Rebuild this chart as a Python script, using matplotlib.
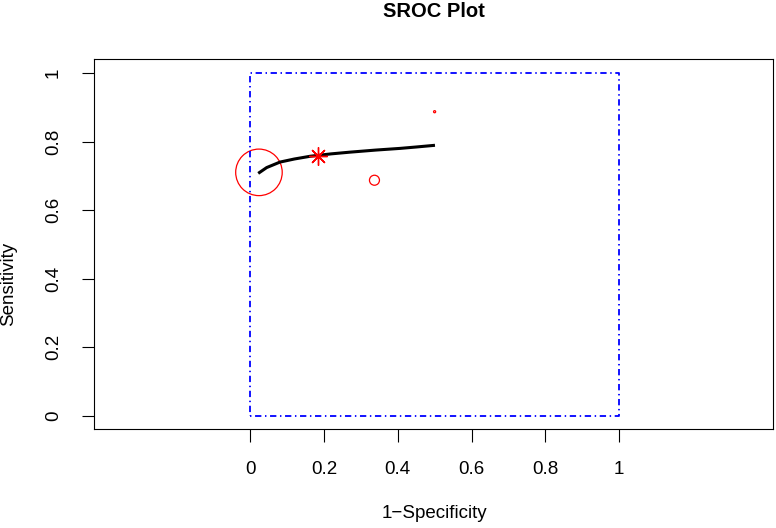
import matplotlib.pyplot as plt

plt.rcParams["font.family"] = ["Liberation Sans", "DejaVu Sans"]

# study points (1-specificity, sensitivity) and relative bubble weight
study_fpr = [0.024, 0.337, 0.500]
study_tpr = [0.710, 0.687, 0.887]
study_weight = [1.0, 0.215, 0.045]

# summary point
summary_fpr = [0.185]
summary_tpr = [0.757]

# SROC curve
curve_fpr = [0.022, 0.045, 0.081, 0.12, 0.163, 0.22, 0.271, 0.34, 0.407, 0.45, 0.501]
curve_tpr = [0.707, 0.724, 0.740, 0.749, 0.757, 0.764, 0.769, 0.775, 0.780, 0.784, 0.789]

ticks = [0, 0.2, 0.4, 0.6, 0.8, 1]
tick_labels = ["0", "0.2", "0.4", "0.6", "0.8", "1"]

fig = plt.figure(figsize=(7.76, 5.28), dpi=100)
ax = fig.add_axes([94 / 776, 98.7 / 528, 679 / 776, 370 / 528])

# unit square
ax.plot([0, 1, 1, 0, 0], [0, 0, 1, 1, 0], color="blue", lw=1.3,
        linestyle=(0, (0.8, 2.0, 3.5, 2.0)))

ax.plot(curve_fpr, curve_tpr, color="black", lw=2.2, solid_capstyle="butt")

sizes = [(33.5 * w) ** 2 for w in study_weight]
ax.scatter(study_fpr, study_tpr, s=sizes, facecolors="none", edgecolors="red", linewidths=0.9)
ax.plot(summary_fpr, summary_tpr, linestyle="none", marker=(8, 2, 0), markersize=13,
        color="red", markeredgewidth=1.0)

ax.set_xlim(-0.423, 1.417)
ax.set_ylim(-0.04, 1.04)
ax.set_xticks(ticks)
ax.set_xticklabels(tick_labels)
ax.set_yticks(ticks)
ax.set_yticklabels(tick_labels, rotation=90, va="center")
ax.tick_params(direction="out", length=9, width=0.8, pad=14, labelsize=13.5)
for sp in ax.spines.values():
    sp.set_linewidth(0.8)

fig.text(434 / 776, (528 - 17.3) / 528, "SROC Plot", ha="center", va="baseline",
         fontsize=14.5, fontweight="bold")
fig.text(434 / 776, (528 - 518) / 528, "1\u2212Specificity", ha="center", va="baseline",
         fontsize=13.5)
fig.text(9 / 776, 244 / 528, "Sensitivity", rotation=90, ha="center", va="center",
         fontsize=13.5)

fig.savefig("out.png", dpi=100)
